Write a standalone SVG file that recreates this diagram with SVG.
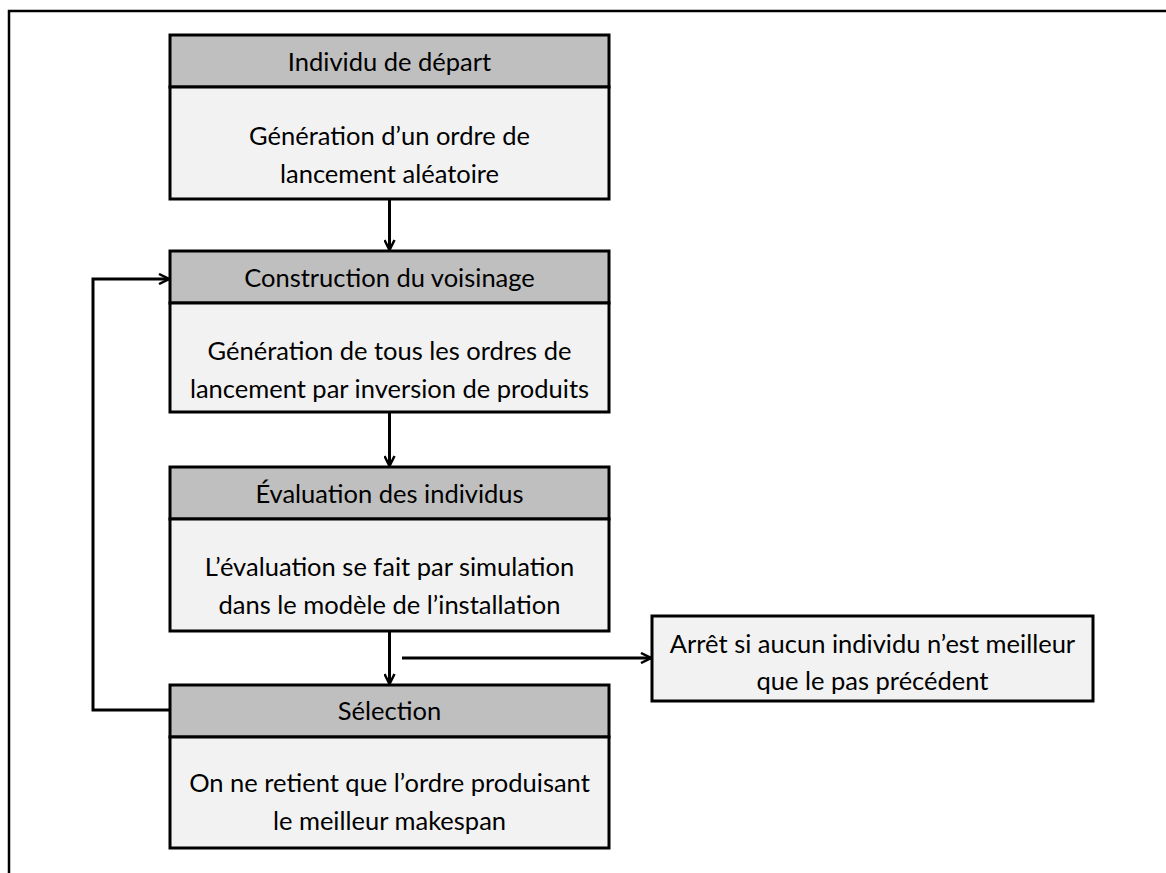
<svg xmlns="http://www.w3.org/2000/svg" width="1166" height="873" viewBox="0 0 1166 873">
<style>
.hd{fill:#bfbfbf;stroke:#000;stroke-width:3}
.bd{fill:#f2f2f2;stroke:#000;stroke-width:3}
.t{font-family:Lato,"Liberation Sans",sans-serif;font-size:25.5px;fill:#000;text-anchor:middle;dominant-baseline:central}
.c{fill:none;stroke:#000;stroke-width:3}
</style>
<defs>
<marker id="ah" viewBox="0 0 12 12" refX="11" refY="6" markerWidth="12" markerHeight="12" markerUnits="userSpaceOnUse" orient="auto">
<path d="M1,1 L11,6 L1,11" fill="none" stroke="#000" stroke-width="2.5"/>
</marker>
</defs>
<rect width="1166" height="873" fill="#fff"/>
<path d="M9,873 V11 H1166" fill="none" stroke="#000" stroke-width="2.5"/>
<g id="n1">
<rect class="hd" x="170" y="35" width="439" height="52"/>
<rect class="bd" x="170" y="87" width="439" height="112"/>
<text class="t" x="389.5" y="61">Individu de départ</text>
<text class="t" x="389.5" y="135">Génération d’un ordre de</text>
<text class="t" x="389.5" y="173">lancement aléatoire</text>
</g>
<g id="n2">
<rect class="hd" x="170" y="251" width="439" height="52"/>
<rect class="bd" x="170" y="303" width="439" height="109"/>
<text class="t" x="389.5" y="277">Construction du voisinage</text>
<text class="t" x="389.5" y="350">Génération de tous les ordres de</text>
<text class="t" x="389.5" y="388">lancement par inversion de produits</text>
</g>
<g id="n3">
<rect class="hd" x="170" y="467" width="439" height="52"/>
<rect class="bd" x="170" y="519" width="439" height="112"/>
<text class="t" x="389.5" y="493">Évaluation des individus</text>
<text class="t" x="389.5" y="566">L’évaluation se fait par simulation</text>
<text class="t" x="389.5" y="604">dans le modèle de l’installation</text>
</g>
<g id="n4">
<rect class="hd" x="170" y="685" width="439" height="52"/>
<rect class="bd" x="170" y="737" width="439" height="111"/>
<text class="t" x="389.5" y="710">Sélection</text>
<text class="t" x="389.5" y="782">On ne retient que l’ordre produisant</text>
<text class="t" x="389.5" y="820">le meilleur makespan</text>
</g>
<g id="n5">
<rect class="bd" x="652" y="616" width="441" height="85"/>
<text class="t" x="872.5" y="643">Arrêt si aucun individu n’est meilleur</text>
<text class="t" x="872.5" y="680">que le pas précédent</text>
</g>
<g id="connectors">
<path class="c" d="M389.5,199 V250" marker-end="url(#ah)"/>
<path class="c" d="M389.5,412 V466" marker-end="url(#ah)"/>
<path class="c" d="M389.5,631 V684" marker-end="url(#ah)"/>
<path class="c" d="M402,658 H651" marker-end="url(#ah)"/>
<path class="c" d="M170,710 H93 V279 H169" marker-end="url(#ah)"/>
</g>
</svg>
